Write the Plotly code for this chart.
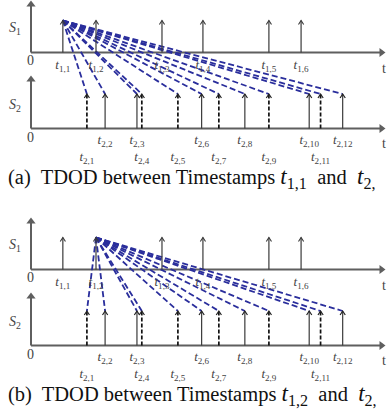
import plotly.graph_objects as go

# ---------------- data (time units) ----------------
s1_times = [0.98, 2.0, 4.03, 5.29, 7.32, 8.31]
s1_labels = ["1,1", "1,2", "1,3", "1,4", "1,5", "1,6"]

s2_times = [1.72, 2.28, 3.26, 3.41, 4.52, 5.25, 5.78, 6.58, 7.32, 8.56, 8.91, 9.59]
s2_labels = ["2,1", "2,2", "2,3", "2,4", "2,5", "2,6", "2,7", "2,8", "2,9", "2,10", "2,11", "2,12"]
s2_dashed = [True, False, False, True, True, False, True, False, True, False, True, False]

panel_source = [0, 1]          # which S1 timestamp the TDOD lines start from
panel_tag = ["(a)", "(b)"]
panel_src_label = ["1,1", "1,2"]

# ---------------- layout constants (pixels) ----------------
W, H = 391, 412
PX0, SCALE = 31.0, 32.5
T_END = (385 - PX0) / SCALE
PANEL_DY = [0, 217]
HEAD_DX = 2.6 / SCALE   # half width of stem arrowheads (time units)
HEAD_DY = 4.0           # arrowhead height (pixels)

AX_COL = "#5f5f5f"
STEM_COL = "#3a3a3a"
TXT_COL = "#444444"
BLUE = "#2a2e9c"
SERIF = "Liberation Serif"

fig = go.Figure()
ann = []


def heads(times, top):
    hx, hy = [], []
    for t in times:
        hx += [t - HEAD_DX, t, t + HEAD_DX, None]
        hy += [top + HEAD_DY, top, top + HEAD_DY, None]
    return hx, hy


for p in range(2):
    dy = PANEL_DY[p]
    s1_base, s1_top, s1_axtop = 52.5 + dy, 20.5 + dy, 1.0 + dy
    s2_base, s2_top, s2_axtop = 128.5 + dy, 94.0 + dy, 76.0 + dy

    # axes
    for base, axtop in [(s1_base, s1_axtop), (s2_base, s2_axtop)]:
        fig.add_trace(go.Scatter(x=[0, T_END - 0.12, None, 0, 0], y=[base, base, None, base, axtop + 4],
                                 mode="lines", line=dict(color=AX_COL, width=2), hoverinfo="skip"))
        fig.add_trace(go.Scatter(x=[T_END - 3.5 / SCALE], y=[base], mode="markers",
                                 marker=dict(symbol="triangle-right", size=8, color=AX_COL),
                                 hoverinfo="skip", cliponaxis=False))
        fig.add_trace(go.Scatter(x=[0], y=[axtop + 3.5], mode="markers",
                                 marker=dict(symbol="triangle-up", size=8, color=AX_COL),
                                 hoverinfo="skip", cliponaxis=False))

    # TDOD dashed lines
    src = s1_times[panel_source[p]]
    lx, ly = [], []
    for t in s2_times:
        lx += [src, t, None]
        ly += [s1_top, s2_top, None]
    fig.add_trace(go.Scatter(x=lx, y=ly, mode="lines",
                             line=dict(color=BLUE, width=1.8, dash="6px,3px"), hoverinfo="skip"))

    # S1 stems
    sx, sy = [], []
    for t in s1_times:
        sx += [t, t, None]
        sy += [s1_base, s1_top, None]
    fig.add_trace(go.Scatter(x=sx, y=sy, mode="lines", line=dict(color=STEM_COL, width=1.2),
                             hoverinfo="skip"))
    hx, hy = heads(s1_times, s1_top)
    fig.add_trace(go.Scatter(x=hx, y=hy, mode="lines", line=dict(color=STEM_COL, width=1.1),
                             hoverinfo="skip"))

    # S2 stems
    solid_x, solid_y, dash_x, dash_y = [], [], [], []
    for t, d in zip(s2_times, s2_dashed):
        if d:
            dash_x += [t, t, None]
            dash_y += [s2_base, s2_top, None]
        else:
            solid_x += [t, t, None]
            solid_y += [s2_base, s2_top, None]
    fig.add_trace(go.Scatter(x=solid_x, y=solid_y, mode="lines",
                             line=dict(color=STEM_COL, width=1.2), hoverinfo="skip"))
    fig.add_trace(go.Scatter(x=dash_x, y=dash_y, mode="lines",
                             line=dict(color="#111111", width=1.7, dash="4px,2px"), hoverinfo="skip"))
    hx, hy = heads(s2_times, s2_top)
    fig.add_trace(go.Scatter(x=hx, y=hy, mode="lines", line=dict(color="#222222", width=1.2),
                             hoverinfo="skip"))

    # timestamp labels
    tfont = dict(family=SERIF, size=13, color=TXT_COL)
    fig.add_trace(go.Scatter(x=s1_times, y=[66 + dy] * len(s1_times), mode="text",
                             text=[f"<i>t</i><sub>{l}</sub>" for l in s1_labels],
                             textfont=tfont, hoverinfo="skip", cliponaxis=False))
    up_x = [t for t, d in zip(s2_times, s2_dashed) if not d]
    up_l = [l for l, d in zip(s2_labels, s2_dashed) if not d]
    lo_x = [t for t, d in zip(s2_times, s2_dashed) if d]
    lo_l = [l for l, d in zip(s2_labels, s2_dashed) if d]
    fig.add_trace(go.Scatter(x=up_x, y=[141 + dy] * len(up_x), mode="text",
                             text=[f"<i>t</i><sub>{l}</sub>" for l in up_l],
                             textfont=tfont, hoverinfo="skip", cliponaxis=False))
    fig.add_trace(go.Scatter(x=lo_x, y=[158 + dy] * len(lo_x), mode="text",
                             text=[f"<i>t</i><sub>{l}</sub>" for l in lo_l],
                             textfont=tfont, hoverinfo="skip", cliponaxis=False))

    # axis annotations: 0, t, S1, S2
    lf = dict(family=SERIF, size=14, color=TXT_COL)
    for txt, x, y in [("0", -0.02, 60 + dy), ("0", -0.02, 137 + dy),
                      ("t", T_END - 0.04, 68 + dy), ("t", T_END - 0.04, 143 + dy),
                      ("<i>S</i><sub>1</sub>", -0.5, 28 + dy), ("<i>S</i><sub>2</sub>", -0.5, 105 + dy)]:
        ann.append(dict(x=x, y=y, xref="x", yref="y", text=txt, showarrow=False, font=lf,
                        xanchor="center", yanchor="middle"))

    # caption
    math1 = f"<span style='font-size:23px'><i>t</i><sub>{panel_src_label[p]}</sub></span>"
    math2 = "<span style='font-size:23px'><i>t</i><sub>2,</sub></span>"
    ann.append(dict(x=6 / W, y=178 + dy, xref="paper", yref="y", xanchor="left", yanchor="middle",
                    showarrow=False, font=dict(family=SERIF, size=20.5, color="#111111"),
                    text=f"{panel_tag[p]}&nbsp; TDOD between Timestamps&nbsp;{math1}&nbsp; and&nbsp; {math2}"))

fig.update_layout(
    width=W, height=H, margin=dict(l=0, r=0, t=0, b=0),
    paper_bgcolor="white", plot_bgcolor="white", showlegend=False,
    xaxis=dict(visible=False, range=[-PX0 / SCALE, (W - PX0) / SCALE], fixedrange=True),
    yaxis=dict(visible=False, range=[H, 0], fixedrange=True),
    annotations=ann,
)

fig.write_html("out.html", config={"displayModeBar": False, "staticPlot": True},
               post_script="document.body.style.margin='0';document.body.style.padding='0';")
